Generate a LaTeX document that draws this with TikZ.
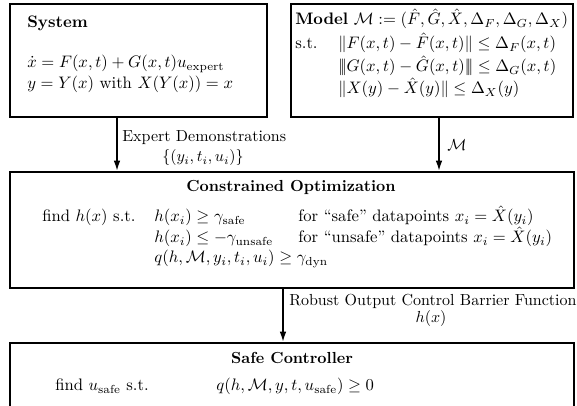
\RequirePackage{fix-cm}
\documentclass[tikz,border=0pt]{standalone}
\usepackage{amsmath,amssymb}
\usetikzlibrary{fit,arrows.meta}
\begin{document}
\begin{tikzpicture}[x=0.625pt,y=-0.625pt,
  box/.style={draw,line width=1.2pt,inner sep=0pt},
  txt/.style={anchor=base west,inner sep=0pt,font=\fontsize{10.4}{12.5}\selectfont},
  lbl/.style={anchor=base west,inner sep=0pt},
  ctr/.style={anchor=base,inner sep=0pt},
  ttl/.style={anchor=base,inner sep=0pt,font=\bfseries},
  arr/.style={line width=1.1pt,-{Latex[length=6.5pt,width=4.2pt]}}]
\useasboundingbox (0,0) rectangle (577,406);
\clip (0,0) rectangle (577,406);
% boxes
\node[box,fit={(10,4)(267,117)}] (sys) {};
\node[box,fit={(291,4)(573,117)}] (mod) {};
\node[box,fit={(10,172)(574,288)}] (opt) {};
\node[box,fit={(10,343)(574,420)}] (ctl) {};
% system
\node[txt] (systitle) at (27,28) {\textbf{System}};
\node[txt] (sys1) at (27,68) {$\dot x = F(x,t) + G(x,t)u_{\text{expert}}$};
\node[txt] (sys2) at (27,89) {$y = Y(x)$ with $X(Y(x)) = x$};
% model
\node[txt] (modtitle) at (295,25) {\textbf{Model} $\mathcal{M} := (\hat F, \hat G, \hat X, \Delta_F, \Delta_G, \Delta_X)$};
\node[txt] (modst) at (295,49) {s.t.};
\node[txt] (mod1) at (338,49) {$\|F(x,t) - \hat F(x,t)\| \le \Delta_F(x,t)$};
\node[txt] (mod2) at (338,72) {$\vert\!\vert\!\vert G(x,t) - \hat G(x,t)\vert\!\vert\!\vert \le \Delta_G(x,t)$};
\node[txt] (mod3) at (338,94) {$\|X(y) - \hat X(y)\| \le \Delta_X(y)$};
% optimization
\node[ttl] (opttitle) at (291,192) {Constrained Optimization};
\node[txt] (optfind) at (42,222) {find $h(x)$ s.t.};
\node[txt] (opt1) at (154,222) {$h(x_i) \ge \gamma_{\text{safe}}$};
\node[txt] (opt1b) at (298,222) {for ``safe'' datapoints $x_i = \hat X(y_i)$};
\node[txt] (opt2) at (154,243) {$h(x_i) \le -\gamma_{\text{unsafe}}$};
\node[txt] (opt2b) at (298,243) {for ``unsafe'' datapoints $x_i = \hat X(y_i)$};
\node[txt] (opt3) at (154,263) {$q(h,\mathcal{M},y_i,t_i,u_i) \ge \gamma_{\text{dyn}}$};
% controller
\node[ttl] (ctltitle) at (292,364) {Safe Controller};
\node[txt] (ctlfind) at (55,391) {find $u_{\text{safe}}$ s.t.};
\node[txt] (ctl1) at (216,391) {$q(h,\mathcal{M},y,t,u_{\text{safe}}) \ge 0$};
% arrows
\coordinate (c1) at (117,0);
\coordinate (c2) at (439,0);
\coordinate (c3) at (283,0);
\draw[arr] (c1 |- sys.south) -- (c1 |- opt.north);
\draw[arr] (c2 |- mod.south) -- (c2 |- opt.north);
\draw[arr] (c3 |- opt.south) -- (c3 |- ctl.north);
% labels
\node[lbl] (lab1) at (122,141.5) {Expert Demonstrations};
\node[ctr] (lab1b) at (203,162) {$\{(y_i,t_i,u_i)\}$};
\node[lbl] (lab2) at (447,151) {$\mathcal{M}$};
\node[lbl] (lab3) at (289,306) {Robust Output Control Barrier Function};
\node[ctr] (lab3b) at (431,323) {$h(x)$};
\end{tikzpicture}
\end{document}
